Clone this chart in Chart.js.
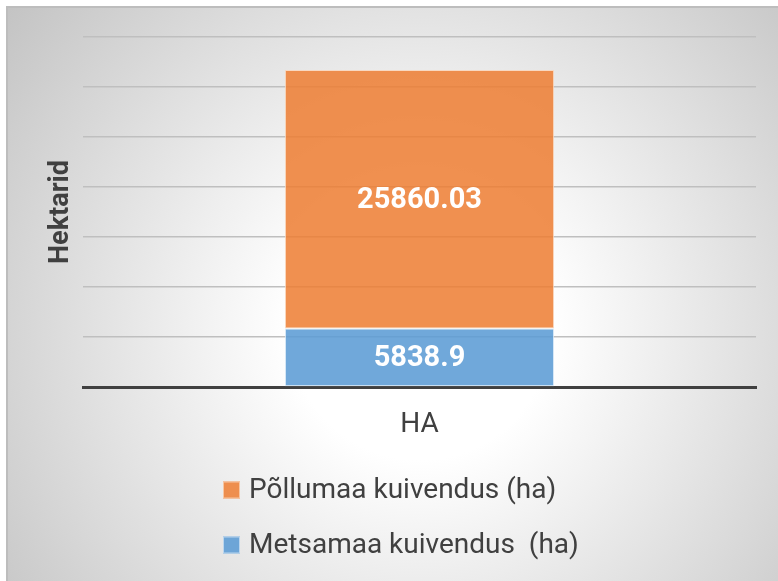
<!DOCTYPE html>
<html>
<head>
<meta charset="utf-8">
<script src="https://cdn.jsdelivr.net/npm/chart.js@4/dist/chart.umd.min.js"></script>
<style>
  html, body { margin: 0; padding: 0; background: #ffffff; }
  #wrap { width: 778px; height: 581px; position: relative; }
</style>
</head>
<body>
<div id="wrap"><canvas id="c" width="778" height="581"></canvas></div>
<script>
const categories = ["HA"];
const metsamaaValues = [5838.9];
const pollumaaValues = [25860.03];
const seriesLabels = ["Metsamaa kuivendus  (ha)", "Põllumaa kuivendus (ha)"];
const yAxisTitle = "Hektarid";
const yMax = 35000;
const yStep = 5000;

const FONT = "Roboto, 'Liberation Sans', sans-serif";

const bgPlugin = {
  id: 'bg',
  beforeDraw(chart) {
    const ctx = chart.ctx;
    ctx.save();
    ctx.fillStyle = '#ffffff';
    ctx.fillRect(0, 0, chart.width, chart.height);
    const g = ctx.createRadialGradient(420, 330, 0, 420, 330, 520);
    g.addColorStop(0, '#ffffff');
    g.addColorStop(0.25, '#ffffff');
    g.addColorStop(1, '#c4c4c4');
    ctx.fillStyle = g;
    ctx.fillRect(6, 6, chart.width - 6, chart.height - 6);
    ctx.strokeStyle = '#bdbdbd';
    ctx.lineWidth = 2;
    ctx.beginPath();
    ctx.moveTo(7, chart.height);
    ctx.lineTo(7, 7);
    ctx.lineTo(chart.width, 7);
    ctx.stroke();
    ctx.restore();
  }
};

const labelPlugin = {
  id: 'valueLabels',
  afterDatasetsDraw(chart) {
    const ctx = chart.ctx;
    ctx.save();
    ctx.fillStyle = '#ffffff';
    ctx.font = "bold 29px " + FONT;
    ctx.textAlign = 'center';
    ctx.textBaseline = 'middle';
    chart.data.datasets.forEach((ds, di) => {
      const meta = chart.getDatasetMeta(di);
      meta.data.forEach((el, i) => {
        const p = el.getProps(['x', 'y', 'base'], true);
        ctx.fillText(String(ds.data[i]), p.x, (p.y + p.base) / 2 + 1);
      });
    });
    ctx.restore();
  }
};

const legendPlugin = {
  id: 'customLegend',
  afterDraw(chart) {
    const ctx = chart.ctx;
    ctx.save();
    const items = chart.data.datasets.map((d) => ({ text: d.label, fill: d.backgroundColor, stroke: d.legendStroke })).reverse();
    const rows = [490, 545];
    items.forEach((it, i) => {
      const cy = rows[i];
      ctx.fillStyle = it.fill;
      ctx.fillRect(223, cy - 8.5, 17, 17);
      ctx.strokeStyle = it.stroke;
      ctx.lineWidth = 1;
      ctx.strokeRect(223.5, cy - 8, 16, 16);
      ctx.fillStyle = '#404040';
      ctx.font = "28px " + FONT;
      ctx.textAlign = 'left';
      ctx.textBaseline = 'middle';
      ctx.fillText(it.text, 249, cy + 1);
    });
    ctx.restore();
  }
};

new Chart(document.getElementById('c'), {
  type: 'bar',
  data: {
    labels: categories,
    datasets: [
      {
        label: seriesLabels[0],
        data: metsamaaValues,
        backgroundColor: 'rgba(91,155,213,0.87)',
        borderColor: 'rgba(220,235,248,0.9)',
        legendStroke: '#bcd6ee',
        borderWidth: 1,
        borderSkipped: false,
        categoryPercentage: 1,
        barPercentage: 0.4
      },
      {
        label: seriesLabels[1],
        data: pollumaaValues,
        backgroundColor: 'rgba(237,125,49,0.85)',
        borderColor: 'rgba(250,215,190,0.9)',
        legendStroke: '#f7c6a3',
        borderWidth: 1,
        borderSkipped: false,
        categoryPercentage: 1,
        barPercentage: 0.4
      }
    ]
  },
  options: {
    responsive: false,
    animation: false,
    layout: { padding: { left: 0, right: 22, top: 37, bottom: 125 } },
    plugins: {
      legend: { display: false },
      tooltip: { enabled: false }
    },
    scales: {
      x: {
        stacked: true,
        grid: { display: false, drawTicks: false, tickLength: 0 },
        border: { display: true, color: '#404040', width: 3 },
        ticks: { color: '#404040', font: { family: FONT, size: 28 }, padding: 21 },
        afterFit(scale) { scale.height = 69; }
      },
      y: {
        stacked: true,
        min: 0,
        max: yMax,
        ticks: { display: false, stepSize: yStep },
        grid: {
          drawTicks: false,
          tickLength: 0,
          lineWidth: 1.5,
          color: (c) => (c.tick && c.tick.value === 0) ? 'rgba(0,0,0,0)' : '#bfbfbf'
        },
        border: { display: false },
        title: {
          display: true,
          text: yAxisTitle,
          color: '#404040',
          font: { family: FONT, size: 27, weight: 'bold' },
          padding: { top: 45, bottom: 0 }
        },
        afterFit(scale) { scale.width = 83; }
      }
    }
  },
  plugins: [bgPlugin, labelPlugin, legendPlugin]
});
</script>
</body>
</html>
